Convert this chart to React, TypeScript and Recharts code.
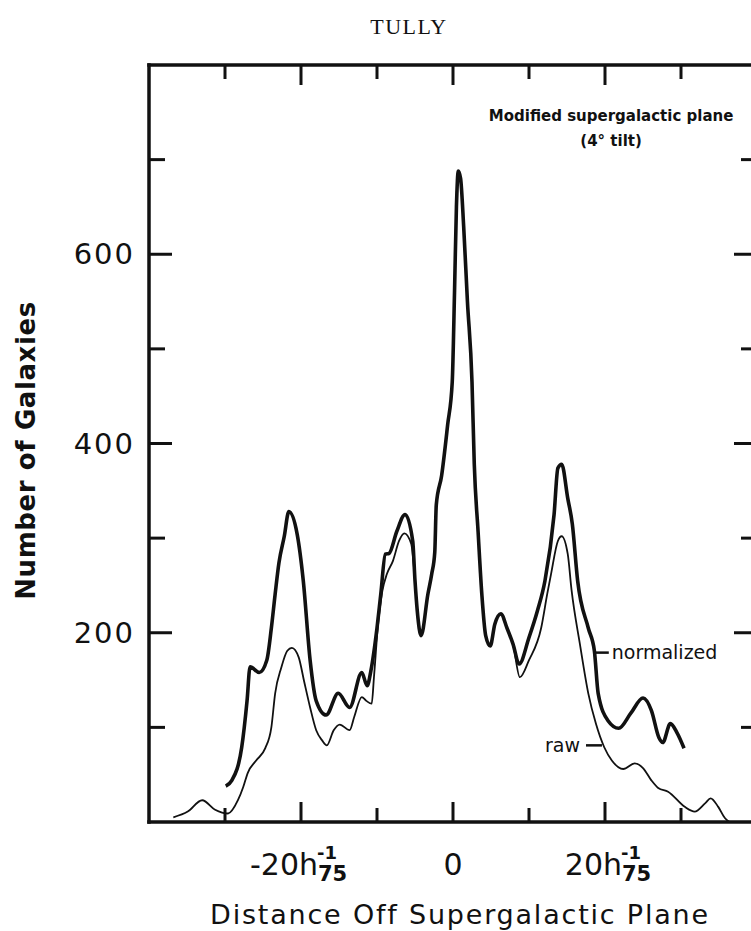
import React from 'react';
import { LineChart, Line, XAxis, YAxis, ReferenceLine, ReferenceDot } from 'recharts';

const INK = '#111';
const SANS = '"DejaVu Sans", Verdana, sans-serif';

// chart box: axis bands around the plot frame
const CHART_W = 760;
const CHART_H = 931;
const AXIS_T = 65;
const AXIS_B = 109;
const AXIS_L = 149;
const AXIS_R = 3;
const PLOT_W = CHART_W - AXIS_L - AXIS_R;
const PLOT_H = CHART_H - AXIS_T - AXIS_B;

// distance ticks (h75^-1 Mpc) and galaxy-count ticks
const xTicks = [-40, -30, -20, -10, 0, 10, 20, 30, 40];
const yTicks = [0, 100, 200, 300, 400, 500, 600, 700, 800];
const yLabelled = [200, 400, 600];

// normalized (thick curve)
const normX = [-29.9, -29.1, -27.8, -27.1, -26.7, -25.5, -24.5, -23.9, -23.4, -22.9, -22.2, -21.6, -20.5, -19.7, -18.8, -18.0, -16.7, -15.1, -13.6, -12.0, -11.3, -10.8, -10.0, -9.5, -8.9, -8.4, -7.4, -6.3, -5.3, -5.0, -4.7, -4.2, -3.3, -2.8, -2.4, -2.2, -1.5, -0.7, -0.1, 0.2, 0.45, 0.7, 1.0, 1.4, 1.9, 2.5, 2.8, 3.3, 3.8, 4.3, 4.9, 5.5, 6.3, 7.1, 7.9, 8.7, 10.0, 11.1, 12.1, 13.3, 13.8, 14.3, 15.1, 15.7, 16.4, 17.8, 18.6, 19.1, 20.4, 21.8, 23.4, 25.0, 26.1, 27.1, 27.6, 28.6, 29.5, 30.4];
const normY = [38, 44, 79, 128, 164, 158, 171, 205, 241, 274, 302, 328, 304, 255, 171, 128, 113, 136, 121, 158, 144, 160, 205, 241, 283, 284, 307, 325, 297, 255, 223, 197, 241, 262, 285, 335, 366, 420, 465, 560, 650, 688, 680, 630, 550, 465, 378, 307, 240, 197, 186, 209, 220, 205, 188, 167, 195, 223, 255, 325, 374, 378, 342, 315, 255, 205, 181, 136, 107, 99, 115, 131, 118, 89, 84, 104, 94, 78];

// raw (thin curve)
const rawX = [-36.8, -34.9, -33.0, -31.3, -29.6, -28.3, -27.6, -27.0, -25.9, -24.7, -23.9, -23.4, -22.6, -21.8, -21.2, -20.3, -19.6, -18.8, -18.0, -17.2, -16.6, -15.7, -14.9, -13.6, -13.0, -12.0, -11.4, -10.7, -10.4, -9.9, -9.3, -8.7, -7.9, -7.1, -6.4, -5.5, -5.0, -4.7, -4.2, -3.3, -2.8, -2.4, -2.2, -1.5, -0.7, -0.1, 0.2, 0.45, 0.7, 1.0, 1.4, 1.9, 2.5, 2.8, 3.3, 3.8, 4.3, 4.9, 5.5, 6.3, 7.1, 7.9, 8.8, 10.0, 11.6, 12.4, 12.9, 13.8, 14.3, 15.1, 15.6, 16.7, 17.8, 18.8, 19.9, 20.9, 22.4, 23.9, 25.0, 26.1, 27.0, 28.3, 30.5, 31.8, 33.2, 33.9, 34.9, 35.8, 36.4];
const rawY = [5, 11, 23, 13, 9, 23, 37, 52, 65, 78, 100, 136, 163, 181, 184, 174, 149, 121, 97, 86, 81, 97, 103, 97, 111, 132, 128, 125, 153, 205, 244, 262, 276, 297, 305, 294, 255, 223, 197, 241, 262, 285, 335, 366, 420, 465, 560, 650, 688, 680, 630, 550, 465, 378, 307, 240, 197, 186, 209, 220, 205, 188, 153, 171, 205, 241, 262, 297, 302, 283, 245, 188, 136, 104, 79, 65, 56, 62, 57, 44, 36, 32, 16, 11, 20, 25, 16, 4, 0];

const normalized = normX.map((x, i) => ({ x, y: normY[i] }));
const raw = rawX.map((x, i) => ({ x, y: rawY[i] }));

const frame = { stroke: INK, strokeWidth: 3.5, strokeLinecap: 'square' as const };

// bottom tick also draws its mirror on the top edge of the frame
function BottomTick({ x, y, payload }: any) {
  const v = payload.value;
  if (Math.abs(v) === 40) return <g />;
  const len = v % 20 === 0 ? 20 : 14;
  const top = y - PLOT_H;
  return (
    <g fill={INK} fontFamily={SANS}>
      <line x1={x} x2={x} y1={y} y2={y - len} stroke={INK} strokeWidth={3} />
      <line x1={x} x2={x} y1={top} y2={top + len} stroke={INK} strokeWidth={3} />
      {v === 0 && <text x={x} y={y + 53} textAnchor="middle" fontSize={30}>0</text>}
      {Math.abs(v) === 20 && (
        <>
          <text x={x + 17} y={y + 53} textAnchor="end" fontSize={30}>{`${v}h`}</text>
          <text x={x + 16} y={y + 37} fontSize={18} fontWeight="bold">-1</text>
          <text x={x + 17} y={y + 59} fontSize={21} fontWeight="bold">75</text>
        </>
      )}
    </g>
  );
}

// left tick also draws its mirror on the right edge of the frame
function LeftTick({ x, y, payload }: any) {
  const v = payload.value;
  if (v === 0 || v === 800) return <g />;
  const major = yLabelled.includes(v);
  const len = major ? 23 : 16;
  const right = x + PLOT_W;
  return (
    <g>
      <line x1={x} x2={x + len} y1={y} y2={y} stroke={INK} strokeWidth={3} />
      <line x1={right} x2={right - len} y1={y} y2={y} stroke={INK} strokeWidth={3} />
      {major && (
        <text x={x - 14} y={y + 10} textAnchor="end" fontSize={29} letterSpacing={2} fontFamily={SANS} fill={INK}>{v}</text>
      )}
    </g>
  );
}

function XTitle({ viewBox }: any) {
  return (
    <text x={viewBox.x + viewBox.width / 2 + 7} y={viewBox.y + 102} textAnchor="middle" fontFamily={SANS} fontSize={27} letterSpacing={1.8} fill={INK}>
      Distance Off Supergalactic Plane
    </text>
  );
}

function YTitle({ viewBox }: any) {
  const cx = viewBox.x + 35;
  const cy = viewBox.y + viewBox.height / 2 + 7;
  return (
    <text x={cx} y={cy} transform={`rotate(-90, ${cx}, ${cy})`} textAnchor="middle" fontFamily={SANS} fontWeight="bold" fontSize={26} letterSpacing={0.6} fill={INK}>
      Number of Galaxies
    </text>
  );
}

function Header({ viewBox }: any) {
  return (
    <text x={viewBox.x + 260} y={34} textAnchor="middle" fontFamily='"Liberation Serif", "Times New Roman", serif' fontSize={22} letterSpacing={1.5} fill={INK}>
      TULLY
    </text>
  );
}

function Note({ viewBox }: any) {
  return (
    <g fontFamily={SANS} fontWeight="bold" fontSize={15} fill={INK} textAnchor="middle">
      <text x={viewBox.x} y={viewBox.y}>Modified supergalactic plane</text>
      <text x={viewBox.x} y={viewBox.y + 25}>(4° tilt)</text>
    </g>
  );
}

export default function App() {
  return (
    <div style={{ position: 'absolute', left: 0, top: 0, width: 751, height: 931, overflow: 'hidden', background: '#fff' }}>
      <LineChart width={CHART_W} height={CHART_H} margin={{ top: 0, right: 0, bottom: 0, left: 0 }}>
        <XAxis xAxisId="b" dataKey="x" type="number" domain={[-40, 40]} ticks={xTicks} interval={0} height={AXIS_B}
          axisLine={frame} tickLine={false} tickSize={0} tickMargin={0} tick={BottomTick} label={{ content: XTitle }} />
        <XAxis xAxisId="t" orientation="top" dataKey="x" type="number" domain={[-40, 40]} ticks={xTicks} height={AXIS_T}
          axisLine={frame} tickLine={false} tick={false} label={{ content: Header }} />
        <YAxis yAxisId="l" type="number" domain={[0, 800]} ticks={yTicks} interval={0} width={AXIS_L}
          axisLine={frame} tickLine={false} tickSize={0} tickMargin={0} tick={LeftTick} label={{ content: YTitle }} />
        <YAxis yAxisId="r" orientation="right" type="number" domain={[0, 800]} ticks={yTicks} width={AXIS_R}
          axisLine={frame} tickLine={false} tick={false} />
        <Line xAxisId="b" yAxisId="l" data={raw} dataKey="y" type="monotone" stroke={INK} strokeWidth={1.8}
          dot={false} activeDot={false} isAnimationActive={false} />
        <Line xAxisId="b" yAxisId="l" data={normalized} dataKey="y" type="monotone" stroke={INK} strokeWidth={3.6}
          dot={false} activeDot={false} isAnimationActive={false} />
        <ReferenceLine xAxisId="b" yAxisId="l" segment={[{ x: 18.8, y: 179 }, { x: 20.5, y: 179 }]} stroke={INK} strokeWidth={2.5}
          label={{ value: 'normalized', position: 'right', offset: 3, fontSize: 19, fontFamily: SANS, fill: INK }} />
        <ReferenceLine xAxisId="b" yAxisId="l" segment={[{ x: 17.5, y: 81 }, { x: 19.6, y: 81 }]} stroke={INK} strokeWidth={2.5}
          label={{ value: 'raw', position: 'left', offset: 6, fontSize: 19, fontFamily: SANS, fill: INK }} />
        <ReferenceDot xAxisId="b" yAxisId="l" x={20.8} y={741} r={0} fill="none" stroke="none" label={{ content: Note }} />
      </LineChart>
    </div>
  );
}
